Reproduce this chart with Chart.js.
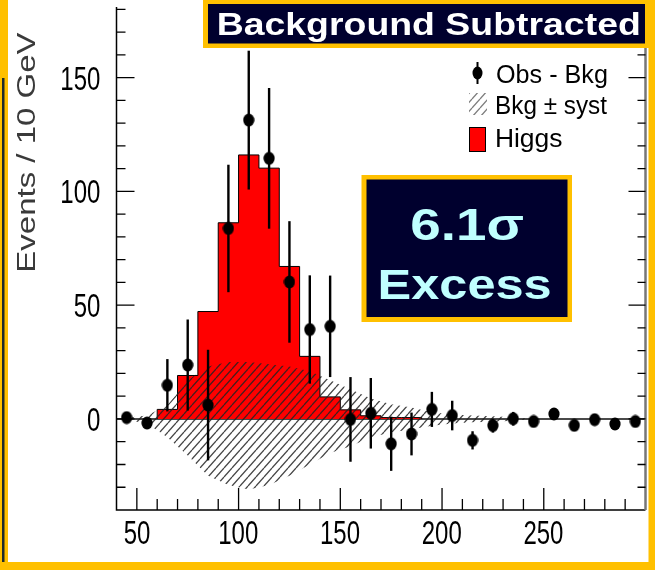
<!DOCTYPE html>
<html>
<head>
<meta charset="utf-8">
<script src="https://cdn.jsdelivr.net/npm/chart.js@4/dist/chart.umd.min.js"></script>
<style>
  html, body { margin: 0; padding: 0; background: #fff; }
  #massPlot { display: block; }
</style>
</head>
<body>
<canvas id="massPlot" width="655" height="570"></canvas>
<script>
// Mass bins (bin centres, GeV) and the background-subtracted spectrum
const massBins = [45, 55, 65, 75, 85, 95, 105, 115, 125, 135, 145, 155, 165,
                  175, 185, 195, 205, 215, 225, 235, 245, 255, 265, 275, 285, 295];
const obsMinusBkg = [0.6, -1.8, 14.8, 23.7, 6.1, 83.7, 131.3, 114.5, 60.2, 39.3, 40.7, -0.2, 2.5,
                     -10.9, -6.6, 4.2, 1.5, -9.4, -2.9, 0.1, -1.1, 2.2, -2.8, -0.3, -2.2, -1.1];
const obsErr = [2, 2, 11.5, 20, 24.3, 28, 30.5, 30.9, 26.7, 23.8, 22.3, 18.6, 15.5,
                11.9, 9.4, 7.7, 6.5, 4, 3, 3, 2, 2, 2, 2, 2, 2];
const higgsSignal = [0, 0, 4.2, 19.1, 47.2, 86.2, 116, 110.2, 67, 27.5, 9.7, 4.0, 1.4,
                     0.6, 0.6, 0, 0, 0, 0, 0, 0, 0, 0, 0, 0, 0];
// background systematic band around zero
const systUp = [0.5, 1.5, 6, 17, 23, 25, 25, 24, 23, 21, 17, 13, 9,
                6.5, 5, 3, 2, 1.5, 1.2, 0.8, 0, 0, 0, 0, 0, 0];
const systDown = [-0.5, -2, -8, -16, -25, -29, -31, -29, -25, -20, -15, -12, -8,
                  -6, -4.5, -3, -2, -1.5, -1.2, -0.8, 0, 0, 0, 0, 0, 0];
const xTickLabels = [50, 100, 150, 200, 250];
const yTickLabels = [0, 50, 100, 150];

const FONT = '"Liberation Sans", Arial, Helvetica, sans-serif';
const GOLD = '#ffc000';
const NAVY = '#00002e';

// diagonal hatch used for the systematic band
function makeHatch(color) {
    const w = 8, h = 9;
    const c = document.createElement('canvas');
    c.width = w; c.height = h;
    const g = c.getContext('2d');
    g.strokeStyle = color;
    g.lineWidth = 1.3;
    [[0, h, w, 0], [-w, h, 0, 0], [w, h, 2 * w, 0]].forEach(([a, b, d, e]) => {
        g.beginPath(); g.moveTo(a, b); g.lineTo(d, e); g.stroke();
    });
    return g.createPattern(c, 'repeat');
}

// slightly tall black marker
function makeDot() {
    const c = document.createElement('canvas');
    c.width = 12; c.height = 14;
    const g = c.getContext('2d');
    g.fillStyle = '#000';
    g.beginPath();
    g.ellipse(6, 7, 5.6, 6.4, 0, 0, Math.PI * 2);
    g.fill();
    return c;
}

// text with its ink box placed at (x, baseline), optionally fitted to a width
function drawText(ctx, str, x, y, o) {
    ctx.save();
    ctx.font = `${o.weight || 'normal'} ${o.size}px ${FONT}`;
    ctx.fillStyle = o.color || '#000';
    ctx.textBaseline = 'alphabetic';
    ctx.textAlign = 'left';
    const m = ctx.measureText(str);
    const ink = m.actualBoundingBoxLeft + m.actualBoundingBoxRight;
    const sx = o.width ? o.width / ink : (o.sx || 1);
    const sy = o.sy || 1;
    let left = x;
    if (o.align === 'right') left = x - ink * sx;
    if (o.align === 'center') left = x - ink * sx / 2;
    ctx.translate(left, y);
    if (o.rotate) ctx.rotate(o.rotate);
    ctx.scale(sx, sy);
    ctx.fillText(str, m.actualBoundingBoxLeft, 0);
    ctx.restore();
}

const hatch = makeHatch('rgba(35,35,35,0.85)');
const dot = makeDot();

const binHalf = (massBins[1] - massBins[0]) / 2;
const first = higgsSignal.findIndex(v => v > 0);
const last = higgsSignal.length - 1 - [...higgsSignal].reverse().findIndex(v => v > 0);
// step outline: left edge of each filled bin, closed back to zero after the last one
const higgsSteps = [{ x: massBins[first] - binHalf, y: 0 }];
for (let i = first; i <= last; i++) higgsSteps.push({ x: massBins[i] - binHalf, y: higgsSignal[i] });
higgsSteps.push({ x: massBins[last] + binHalf, y: higgsSignal[last] });
higgsSteps.push({ x: massBins[last] + binHalf, y: 0 });

const rootFrame = {
    id: 'rootFrame',
    beforeDraw(chart) {
        const { ctx } = chart;
        ctx.save();
        ctx.fillStyle = '#fff';
        ctx.fillRect(0, 0, chart.width, chart.height);
        ctx.restore();
    },
    beforeDatasetsDraw(chart) {
        const { ctx, chartArea: a, scales: { y } } = chart;
        const y0 = y.getPixelForValue(0);
        ctx.save();
        ctx.strokeStyle = '#4a4a4a';
        ctx.lineWidth = 2;
        ctx.beginPath(); ctx.moveTo(a.left, y0); ctx.lineTo(a.right, y0); ctx.stroke();
        ctx.restore();
    },
    afterDatasetsDraw(chart) {
        const { ctx, scales: { x, y } } = chart;
        ctx.save();
        ctx.strokeStyle = '#000';
        ctx.lineWidth = 2.4;
        massBins.forEach((m, i) => {
            const px = x.getPixelForValue(m);
            ctx.beginPath();
            ctx.moveTo(px, y.getPixelForValue(obsMinusBkg[i] - obsErr[i]));
            ctx.lineTo(px, y.getPixelForValue(obsMinusBkg[i] + obsErr[i]));
            ctx.stroke();
        });
        ctx.restore();
    },
    afterDraw(chart) {
        const { ctx, chartArea: a, scales: { x, y } } = chart;
        ctx.save();
        // axes
        ctx.strokeStyle = '#000';
        ctx.lineWidth = 1.5;
        ctx.beginPath();
        ctx.moveTo(a.left, a.top); ctx.lineTo(a.left, a.bottom); ctx.lineTo(a.right, a.bottom);
        ctx.stroke();
        ctx.strokeStyle = '#777';
        ctx.lineWidth = 2.5;
        ctx.beginPath(); ctx.moveTo(a.right, a.top); ctx.lineTo(a.right, a.bottom); ctx.stroke();

        ctx.strokeStyle = '#000';
        ctx.lineWidth = 1.3;
        for (let v = -30; v <= 180; v += 10) {
            const py = y.getPixelForValue(v);
            const len = v % 50 === 0 ? 18 : 9;
            ctx.beginPath();
            ctx.moveTo(a.left, py); ctx.lineTo(a.left + len, py);
            ctx.moveTo(a.right, py); ctx.lineTo(a.right - (len - 1), py);
            ctx.stroke();
        }
        for (let v = 50; v <= 290; v += 10) {
            const px = x.getPixelForValue(v);
            const len = v % 50 === 0 ? 22 : 11;
            ctx.beginPath(); ctx.moveTo(px, a.bottom); ctx.lineTo(px, a.bottom - len); ctx.stroke();
        }
        ctx.restore();

        yTickLabels.forEach(v => {
            drawText(ctx, String(v), 100, y.getPixelForValue(v) + 12, { size: 24, sy: 1.4, align: 'right' });
        });
        xTickLabels.forEach(v => {
            drawText(ctx, String(v), x.getPixelForValue(v), a.bottom + 34, { size: 24, sy: 1.4, align: 'center' });
        });
        drawText(ctx, 'Events / 10 GeV', 35, 270, { size: 25, width: 238, rotate: -Math.PI / 2, color: '#3a3a3a' });

        // legend
        ctx.save();
        ctx.fillStyle = '#000';
        ctx.strokeStyle = '#000';
        ctx.lineWidth = 2;
        ctx.beginPath(); ctx.moveTo(477.5, 62); ctx.lineTo(477.5, 84); ctx.stroke();
        ctx.beginPath(); ctx.ellipse(477.5, 73, 5, 6.5, 0, 0, Math.PI * 2); ctx.fill();
        ctx.fillStyle = hatch;
        ctx.globalAlpha = 0.7;
        ctx.fillRect(469, 93, 18, 22);
        ctx.globalAlpha = 1;
        ctx.fillStyle = '#ff0000';
        ctx.fillRect(469.5, 127.5, 16, 24);
        ctx.lineWidth = 1;
        ctx.strokeRect(469.5, 127.5, 16, 24);
        ctx.restore();
        drawText(ctx, 'Obs - Bkg', 497, 82.5, { size: 25, width: 110, sy: 1.05 });
        drawText(ctx, 'Bkg ± syst', 497, 114, { size: 25, width: 110, sy: 1.05 });
        drawText(ctx, 'Higgs', 497, 146.5, { size: 25, width: 65, sy: 1.05 });

        // significance box
        ctx.save();
        ctx.fillStyle = GOLD;
        ctx.fillRect(361.5, 175, 210.5, 147);
        ctx.fillStyle = NAVY;
        ctx.fillRect(366.5, 179.5, 201, 137.5);
        ctx.restore();
        drawText(ctx, '6.1σ', 411.5, 240, { size: 45, weight: 'bold', width: 111.5, color: '#c0ffff' });
        drawText(ctx, 'Excess', 380, 298.5, { size: 42, weight: 'bold', width: 170, color: '#c0ffff' });

        // banner
        ctx.save();
        ctx.fillStyle = GOLD;
        ctx.fillRect(203, 0, 452, 48);
        ctx.fillStyle = NAVY;
        ctx.fillRect(208, 4, 437, 39.5);
        ctx.restore();
        drawText(ctx, 'Background Subtracted', 219, 35, { size: 32, weight: 'bold', width: 420, color: '#fff' });

        // slide border
        ctx.save();
        ctx.fillStyle = GOLD;
        ctx.fillRect(0, 0, 8, chart.height);
        ctx.fillRect(648.5, 0, 6.5, chart.height);
        ctx.fillRect(0, 562, chart.width, 8);
        ctx.fillStyle = '#1e2b2b';
        ctx.fillRect(2, 78, 2.5, 484);
        ctx.restore();
    }
};

new Chart(document.getElementById('massPlot'), {
    type: 'scatter',
    data: {
        datasets: [
            {
                label: 'Obs - Bkg',
                data: massBins.map((m, i) => ({ x: m, y: obsMinusBkg[i] })),
                pointStyle: dot,
                pointRadius: 6,
                showLine: false,
                order: 0
            },
            {
                label: 'Bkg ± syst',
                type: 'line',
                data: massBins.map((m, i) => ({ x: m, y: systUp[i] })),
                fill: '+1',
                backgroundColor: hatch,
                borderWidth: 0,
                pointRadius: 0,
                order: 1
            },
            {
                label: 'syst low',
                type: 'line',
                data: massBins.map((m, i) => ({ x: m, y: systDown[i] })),
                fill: false,
                borderWidth: 0,
                pointRadius: 0,
                order: 1
            },
            {
                label: 'Higgs',
                type: 'line',
                data: higgsSteps,
                stepped: 'before',
                fill: 'origin',
                backgroundColor: '#ff0000',
                borderColor: '#000',
                borderWidth: 1,
                pointRadius: 0,
                order: 2
            }
        ]
    },
    options: {
        responsive: false,
        animation: false,
        devicePixelRatio: 1,
        layout: { padding: { left: 116.5, top: 0, right: 9.5, bottom: 60 } },
        scales: {
            x: { type: 'linear', min: 40, max: 300, display: false },
            y: { type: 'linear', min: -40, max: 181, display: false }
        },
        plugins: { legend: { display: false }, tooltip: { enabled: false } }
    },
    plugins: [rootFrame]
});
</script>
</body>
</html>
